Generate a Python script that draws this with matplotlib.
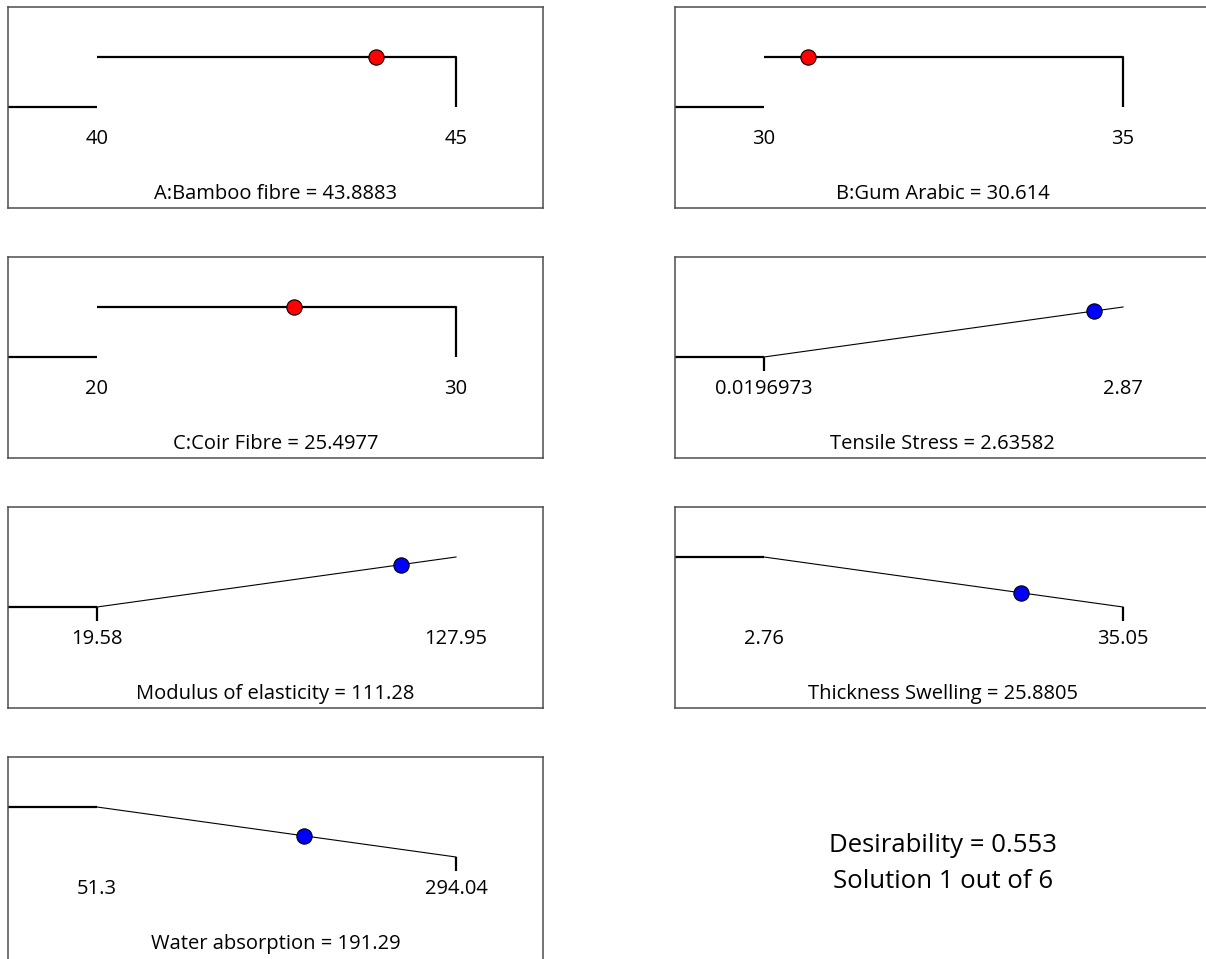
import matplotlib
matplotlib.use('Agg')
import matplotlib.pyplot as plt

plt.rcParams['font.family'] = ['Open Sans', 'DejaVu Sans']

# factors and responses of the optimisation
names = ['A:Bamboo fibre', 'B:Gum Arabic', 'C:Coir Fibre', 'Tensile Stress',
         'Modulus of elasticity', 'Thickness Swelling', 'Water absorption']
lows = [40, 30, 20, 0.0196973, 19.58, 2.76, 51.3]
highs = [45, 35, 30, 2.87, 127.95, 35.05, 294.04]
values = [43.8883, 30.614, 25.4977, 2.63582, 111.28, 25.8805, 191.29]
goals = ['range', 'range', 'range', 'max', 'max', 'min', 'min']
desirability = 0.553
solution, n_solutions = 1, 6

W, H = 1206, 959
fig = plt.figure(figsize=(W / 100, H / 100), dpi=100)

col_x = [8, 675]
row_y = [7, 257, 507, 757]
box_w, box_h = 535, 201
lo_off, span = 89, 359
tick_d = -0.27
fs = 14.5

thick = dict(color='black', lw=1.6, solid_capstyle='butt')
thin = dict(color='black', lw=0.8)


def panel(i, name, lo, hi, val, goal):
    r, c = divmod(i, 2)
    x0, y0 = col_x[c], row_y[r]
    # last row runs off the bottom edge of the figure
    h = box_h + (10 if r == 3 else 0)
    ax = fig.add_axes([x0 / W, 1 - (y0 + h) / H, box_w / W, h / H])
    scale = (hi - lo) / span
    left = lo - lo_off * scale
    right = left + box_w * scale
    ax.set_xlim(left, right)
    ax.set_ylim(2.0 - h / 50, 2.0)
    ax.set_xticks([])
    ax.set_yticks([])
    for s in ax.spines.values():
        s.set_color('#4d4d4d')
        s.set_linewidth(1.1)

    if goal == 'range':
        ax.plot([left, lo], [0, 0], **thick)
        ax.plot([lo, hi, hi], [1, 1, 0], **thick)
        d = 1.0
        color = 'red'
    elif goal == 'max':
        ax.plot([left, lo], [0, 0], **thick)
        ax.plot([lo, lo], [0, tick_d], **thick)
        ax.plot([lo, hi], [0, 1], **thin)
        d = (val - lo) / (hi - lo)
        color = 'blue'
    else:
        ax.plot([left, lo], [1, 1], **thick)
        ax.plot([lo, hi], [1, 0], **thin)
        ax.plot([hi, hi], [0, tick_d], **thick)
        d = (hi - val) / (hi - lo)
        color = 'blue'

    ax.plot([val], [d], 'o', ms=11, mfc=color, mec='black', mew=0.8, zorder=5)
    ax.text(lo, -0.64, '{:g}'.format(lo), ha='center', va='center', fontsize=fs)
    ax.text(hi, -0.64, '{:g}'.format(hi), ha='center', va='center', fontsize=fs)
    ax.text((left + right) / 2, -1.74, '{} = {:g}'.format(name, val),
            ha='center', va='center', fontsize=fs)


for i in range(len(names)):
    panel(i, names[i], lows[i], highs[i], values[i], goals[i])

fig.text(943 / W, 1 - 845 / H, 'Desirability = {:.3f}'.format(desirability),
         ha='center', va='center', fontsize=18.5)
fig.text(943 / W, 1 - 882 / H, 'Solution {} out of {}'.format(solution, n_solutions),
         ha='center', va='center', fontsize=18.5)

fig.savefig('out.png', dpi=100)
